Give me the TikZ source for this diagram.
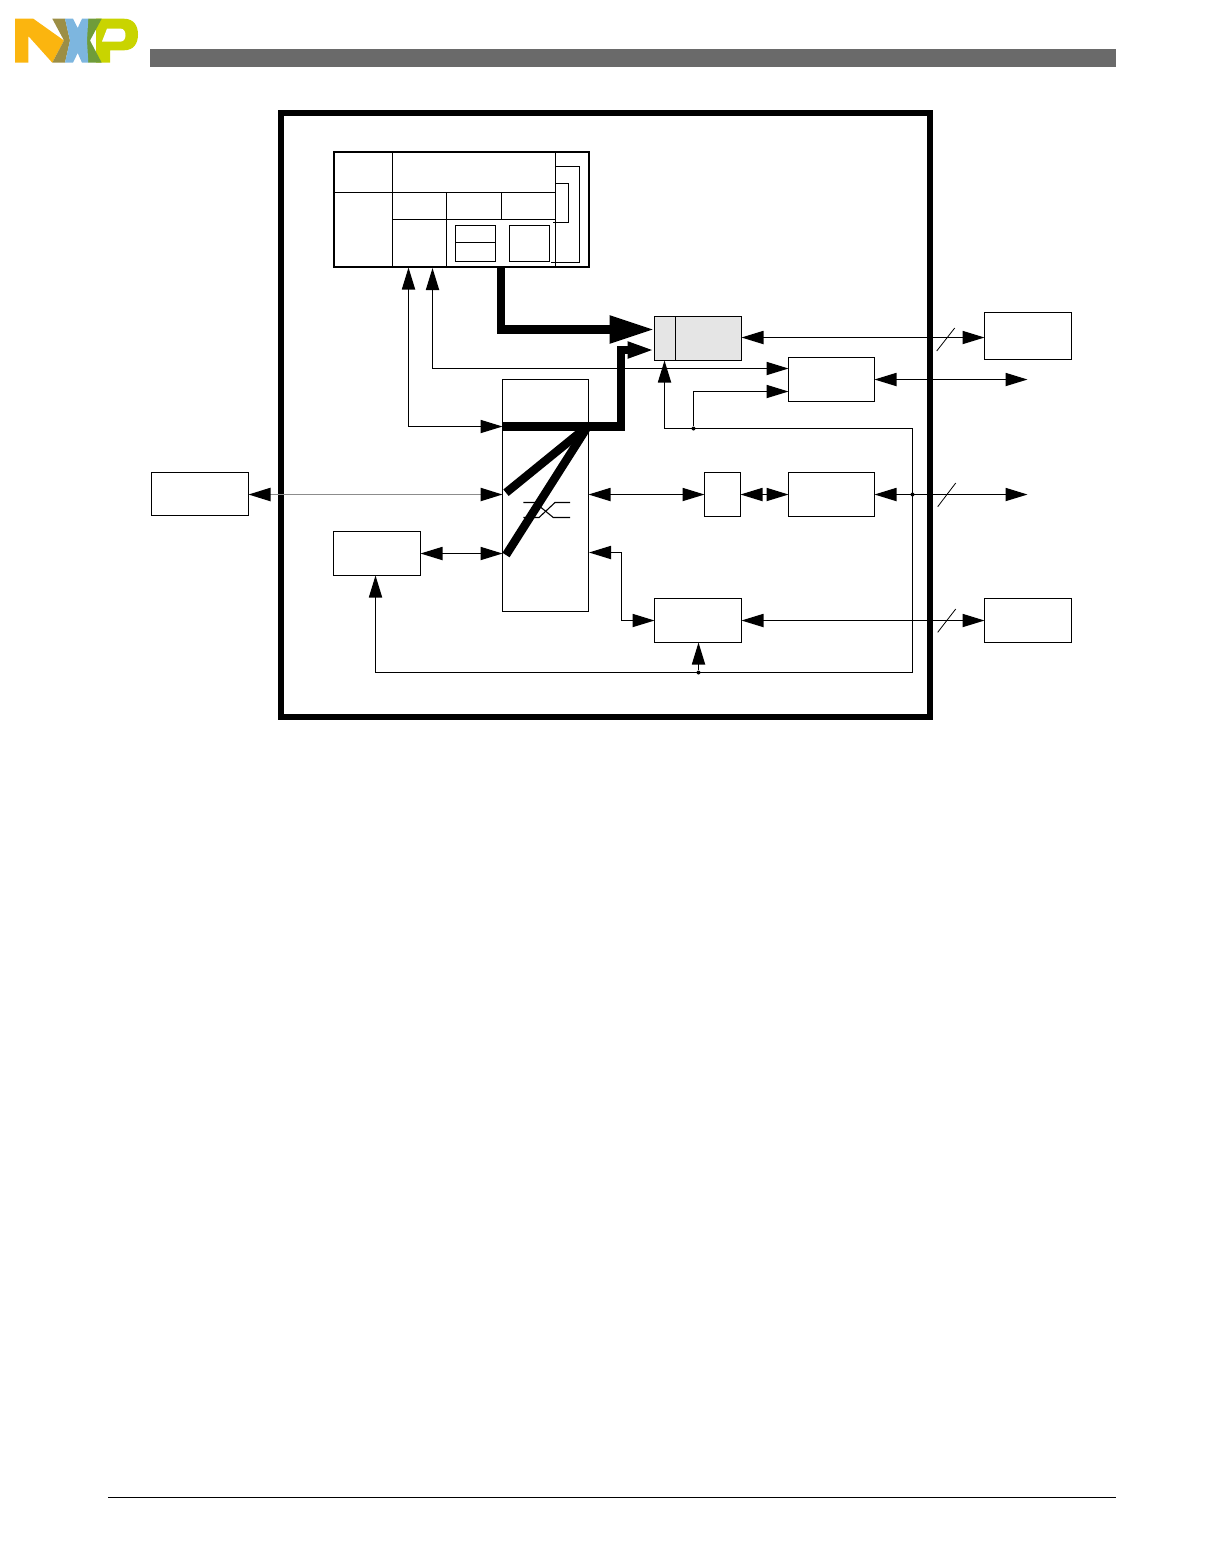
\documentclass[tikz,border=0pt]{standalone}
\usepackage{amsmath,amssymb}
\usetikzlibrary{arrows.meta,positioning}
\definecolor{hdrgray}{HTML}{6A6A6A}
\definecolor{cellgray}{HTML}{E5E5E5}
\definecolor{logoorange}{HTML}{FBB50F}
\definecolor{logoolive}{HTML}{9C8E45}
\definecolor{logoblue}{HTML}{7DB6DF}
\definecolor{logogreen}{HTML}{6F9C3A}
\definecolor{logolime}{HTML}{C9D400}
\tikzset{
  blk/.style={draw,line width=.55pt,inner sep=0pt,outer sep=0pt},
  wide/.style={blk,minimum width=43.5pt,minimum height=22pt},
  wire/.style={line width=.55pt,>={Triangle[length=11pt,width=6.6pt,black]}},
  bus/.style={line width=4.2pt},
  slash/.style={line width=.4pt},
  joint/.style={fill,circle,inner sep=0pt,minimum size=2pt}
}
\begin{document}
\begin{tikzpicture}[x=.5pt,y=-.5pt]
\useasboundingbox (0,0) rectangle (1224,1555);
% logo and page rules
\fill[logolime] (96,18.7)--(124,18.7) .. controls (134,18.7) and (138,26) .. (138,34.5) .. controls (138,43) and (134,50.3) .. (124,50.3)--(110,50.3)--(110,62.7)--(96,62.7)--cycle;
\fill[white] (107,28.7)--(121,28.7) .. controls (127,28.7) and (127,41.5) .. (121,41.5)--(102,41.5)--cycle;
\fill[logoorange] (15,18.7)--(33.3,18.7)--(64,40.5)--(52.3,62.7)--(28.3,36)--(28.3,62.7)--(15,62.7)--cycle;
\fill[logoolive] (52.3,18.7)--(65,18.7)--(70,40.5)--(65,62.7)--(52.3,62.7)--(64,40.5)--cycle;
\fill[logogreen] (88.3,18.7)--(101.7,18.7)--(90,40.5)--(101.7,62.7)--(88.3,62.7)--(80,40.5)--cycle;
\fill[logoblue] (65,18.7)--(73,18.7)--(77.7,28)--(82,18.7)--(88.3,18.7)--(87,40.5)--(88.3,62.7)--(82,62.7)--(77.7,53)--(73,62.7)--(65,62.7)--(70,40.5)--cycle;
\fill[hdrgray] (150,49) rectangle (1116,67);
\draw[line width=.5pt] (108,1497.5)--(1116,1497.5);
% chip outline
\draw[line width=3pt] (281,113) rectangle (929.5,716.5);
% core block
\node[blk,line width=1.25pt,minimum width=127.5pt,minimum height=57.5pt] (core) at (461.5,209.5) {};
\draw[line width=.55pt] (392.5,152)--(392.5,267);
\draw[line width=.55pt] (334,192.5)--(555.5,192.5);
\draw[line width=.55pt] (555.5,152)--(555.5,267);
\draw[line width=.55pt] (392.5,219.5)--(555.5,219.5);
\draw[line width=.55pt] (446.5,192.5)--(446.5,267);
\draw[line width=.55pt] (501.5,192.5)--(501.5,219.5);
\node[blk,minimum width=20pt,minimum height=18pt] (way) at (475.5,243.5) {};
\draw[line width=.55pt] (way.west |- 0,242.5)--(way.east |- 0,242.5);
\node[blk,minimum width=20pt,minimum height=18pt] (tag) at (529.5,243.5) {};
\draw[line width=.55pt] (555.5,166.5)--(579.5,166.5)--(579.5,262.5)--(551,262.5);
\draw[line width=.55pt] (555.5,183.5)--(568.5,183.5)--(568.5,222.5)--(552.5,222.5);
% blocks
\node[blk,fill=cellgray,minimum width=43.5pt,minimum height=22pt] (gate) at (698,338.5) {};
\draw[line width=.55pt] (675.5,317)--(675.5,360.3);
\node[blk,minimum width=43.5pt,minimum height=23.5pt] (extA) at (1028,336) {};
\node[wide,minimum width=43pt] (mid) at (831.5,379.5) {};
\node[wide,minimum width=43pt] (phy) at (831.5,494.5) {};
\node[blk,minimum width=18pt,minimum height=22pt] (pad) at (722.5,494.5) {};
\node[blk,minimum width=43pt,minimum height=116pt] (xbar) at (545.5,495.5) {};
\node[blk,minimum width=48.5pt,minimum height=21.5pt] (extL) at (200,494) {};
\node[wide] (mem) at (377,553.5) {};
\node[wide] (low) at (698,620.5) {};
\node[wide] (extB) at (1028,620.5) {};
% free ends and joints
\coordinate (outM) at (1027.5,379.5);
\coordinate (outP) at (1027.5,494.5);
\node[joint] (jTop) at (693.5,428.5) {};
\node[joint] (jPhy) at (912.5,494.5) {};
\node[joint] (jLow) at (698.5,672.5) {};
\coordinate (cTop) at (664.5,428.5);
\coordinate (cCorner) at (912.5,428.5);
\coordinate (cBase) at (912.5,672.5);
\coordinate (coreA) at (408.5,267.5);
\coordinate (coreB) at (432.5,268);
\coordinate (coreBus) at (501,267);
\coordinate (xbarBus) at (502.5,426.5);
\coordinate (xbarHub) at (588,426);
\coordinate (xbarI) at (506,492.7);
\coordinate (xbarJ) at (506,555);
% thin connectors
\draw[wire,<->] ([yshift=.5pt]gate.east) -- ([yshift=.5pt]gate.east -| extA.west);
\draw[wire,<->] (mid.east) -- (outM);
\draw[wire,<->] (phy.east) -- (outP);
\draw[wire,<->] (low.east) -- (extB.west);
\draw[wire,<->,draw=black!45,line width=.8pt] ([yshift=-.25pt]extL.east) -- ([yshift=-.25pt]extL.east -| xbar.west);
\draw[wire,<->] (mem.east) -- (mem.east -| xbar.west);
\draw[wire,<->] (pad.west -| xbar.east) -- (pad.west);
\draw[wire,<->] (pad.east) -- (phy.west);
\draw[wire,<->] (589,552.5) -- (621.5,552.5) -- (621.5,620.5) -- (low.west);
\draw[wire,<->] (coreA) |- (xbarBus);
\draw[wire,<->] (coreB) |- ([yshift=5.5pt]mid.west);
\draw[wire,->] (cTop) -- (cTop |- gate.south);
\draw[wire,->] (cTop) -- (cCorner) -- (cBase) -| ([xshift=-.75pt]mem.south);
\draw[wire,->] (jTop) |- ([yshift=-6pt]mid.west);
\draw[wire,->] (jLow) -- (jLow |- low.south);
% slashes on the off-chip lines
\draw[slash] (936.7,351)--(954.7,328);
\draw[slash] (937.7,506.7)--(955.7,483);
\draw[slash] (937.7,632.3)--(955.7,609);
% crossing mark
\draw[line width=.55pt] (523.3,502.5)--(535,502.5)--(553.3,517.5)--(570,517.5);
\draw[line width=.55pt] (523.3,517.5)--(539,517.5)--(555,502.5)--(570,502.5);
% thick buses
\draw[bus,-{Triangle[length=22.5pt,width=13pt]}] (coreBus) |- ([yshift=4.5pt]gate.west);
\draw[bus,-{Triangle[length=13.5pt,width=7.6pt]}] (xbarBus) -- (621,426.5) -- (621,350) -- (gate.west |- 0,350);
\draw[bus] (xbarHub) -- (xbarI);
\draw[bus] (xbarHub) -- (xbarJ);
\end{tikzpicture}
\end{document}
